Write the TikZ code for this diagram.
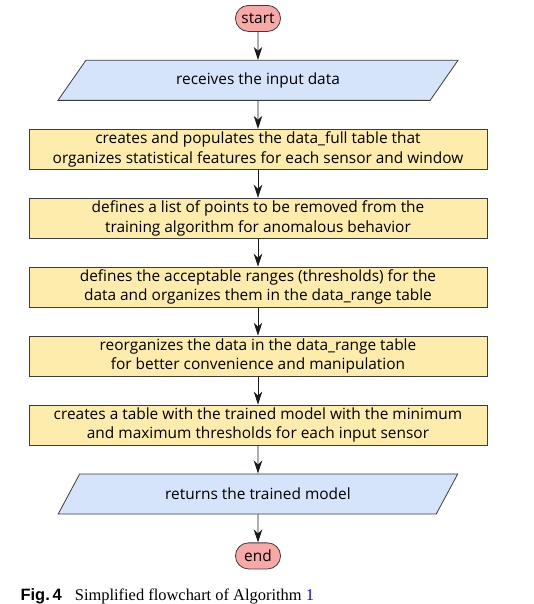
\documentclass[tikz,border=0pt]{standalone}
\usepackage{fontspec}
\setmainfont{Open Sans}
\newfontfamily\capsans{Liberation Sans}
\newfontfamily\capserif{Liberation Serif}
\usetikzlibrary{arrows.meta,shapes.geometric,positioning}
\definecolor{terminalColor}{RGB}{248,168,166}
\definecolor{ioColor}{RGB}{214,228,251}
\definecolor{processColor}{RGB}{253,236,172}
\definecolor{borderColor}{RGB}{60,60,60}
\tikzset{block/.style={draw=borderColor, line width=0.8pt, align=center, font=\fontsize{15.4}{19.5}\selectfont}}
\tikzset{terminal/.style={block, fill=terminalColor, minimum width=45pt, minimum height=26pt, inner sep=2pt, rounded corners=13pt}}
\tikzset{io/.style={block, fill=ioColor, trapezium, trapezium left angle=58, trapezium right angle=122, trapezium stretches=true, minimum width=400pt, minimum height=40pt}}
\tikzset{process/.style={block, fill=processColor, minimum width=457pt, minimum height=40pt, inner sep=1pt}}
\tikzstyle{arrow} = [-{Stealth[length=13pt, width=8.5pt, inset=4pt]}, line width=0.9pt, draw=black!90]

\begin{document}
\begin{tikzpicture}[node distance=28pt]
	% Nodes
	\node (start) [terminal] {start};
	\node (input) [io, below=of start] {receives the input data};

	\node (datafull) [process, below=of input] {creates and populates the data\_full table that\\ organizes statistical features for each sensor and window};
	\node (removed) [process, below=of datafull] {defines a list of points to be removed from the\\ training algorithm for anomalous behavior};
	\node (ranges) [process, below=of removed] {defines the acceptable ranges (thresholds) for the\\ data and organizes them in the data\_range table};
	\node (reorg) [process, below=of ranges] {reorganizes the data in the data\_range table\\ for better convenience and manipulation};
	\node (model) [process, below=of reorg] {creates a table with the trained model with the minimum\\ and maximum thresholds for each input sensor};

	\node (output) [io, below=of model] {returns the trained model};
	\node (end) [terminal, below=of output] {end};

	\node (caption) [below=19pt of end, xshift=-90.5pt, inner sep=0pt, font=\fontsize{16.4}{19}\selectfont]
		{{\capsans\bfseries Fig.\,4}\hspace{0.8em}{\capserif Simplified flowchart of Algorithm \textcolor{blue}{1}}};

	\useasboundingbox ([xshift=-257.5pt, yshift=5pt]start.north) rectangle ([xshift=274.5pt, yshift=-578pt]start.north);

	% Connectors
	\begin{scope}[->]
		\draw [arrow] (start) -- (input);
		\draw [arrow] (input) -- (datafull);
		\draw [arrow] (datafull) -- (removed);
		\draw [arrow] (removed) -- (ranges);
		\draw [arrow] (ranges) -- (reorg);
		\draw [arrow] (reorg) -- (model);
		\draw [arrow] (model) -- (output);
		\draw [arrow] (output) -- (end);
	\end{scope}

\end{tikzpicture}
\end{document}
